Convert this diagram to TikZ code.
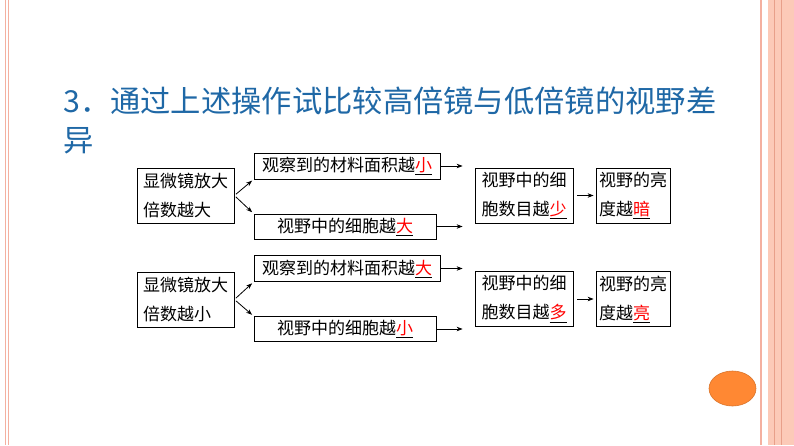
\documentclass[tikz,border=0pt]{standalone}
\usepackage{fontspec}
\setmainfont{Noto Sans CJK SC}
\usetikzlibrary{arrows.meta}
\definecolor{titleblue}{RGB}{31,104,166}
\definecolor{edgepink}{RGB}{244,176,160}
\definecolor{bandsalmon}{RGB}{252,202,184}
\definecolor{bandline}{RGB}{232,160,138}
\definecolor{dotorange}{RGB}{255,136,51}
\newcommand{\ans}[1]{\underline{\textcolor{red}{#1}}}

\begin{document}
\begin{tikzpicture}[x=1pt,y=-1pt,>={Stealth[length=6pt,width=4.5pt]},
  box/.style={draw,line width=0.8pt,inner sep=2pt,align=left,
    font=\fontsize{17}{29}\selectfont},
  arr/.style={->,line width=0.8pt}]
  \useasboundingbox (0,0) rectangle (794,445);

  \draw[edgepink,line width=1pt] (5,0) -- (5,445) (8.5,0) -- (8.5,445);
  \draw[edgepink,line width=1.6pt] (761,0) -- (761,445);
  \fill[bandsalmon] (767.5,0) rectangle (794,445);
  \draw[bandline,line width=0.6pt] (774.5,0) -- (774.5,445) (781,0) -- (781,445);
  \fill[dotorange,draw=dotorange!85!black,line width=0.6pt] (732.5,388.5) ellipse (23.5pt and 17.5pt);

  \node[anchor=north west,inner sep=0pt,align=left,text=titleblue,
    font=\fontsize{30.3}{39}\selectfont] (title) at (63,87)
    {3．通过上述操作试比较高倍镜与低倍镜的视野差\\异};

  \node[box,minimum width=97pt,minimum height=55pt] (A1) at (185.5,195.5) {显微镜放大\\倍数越大};
  \node[box,minimum width=186pt,minimum height=26pt] (B1) at (347,166) {观察到的材料面积越\ans{小}};
  \node[box,minimum width=182pt,minimum height=25pt] (C1) at (345,226.5) {视野中的细胞越\ans{大}};
  \node[box,minimum width=98pt,minimum height=55pt] (D1) at (524,195.5) {视野中的细\\胞数目越\ans{少}};
  \node[box,minimum width=74pt,minimum height=55pt] (E1) at (633,195.5) {视野的亮\\度越\ans{暗}};

  \node[box,minimum width=97pt,minimum height=55pt] (A2) at (185.5,299.5) {显微镜放大\\倍数越小};
  \node[box,minimum width=186pt,minimum height=26pt] (B2) at (347,268.5) {观察到的材料面积越\ans{大}};
  \node[box,minimum width=182pt,minimum height=25pt] (C2) at (345,329) {视野中的细胞越\ans{小}};
  \node[box,minimum width=98pt,minimum height=55pt] (D2) at (524,299) {视野中的细\\胞数目越\ans{多}};
  \node[box,minimum width=74pt,minimum height=55pt] (E2) at (633,299) {视野的亮\\度越\ans{亮}};

  \draw[arr,shorten <=2pt,shorten >=2pt] (A1.east) -- (B1.south west);
  \draw[arr,shorten <=2pt,shorten >=2pt] (A1.east) -- (C1.north west);
  \draw[arr,shorten <=1pt,shorten >=12pt] (B1.east) -- (B1.east -| D1.west);
  \draw[arr,shorten <=1pt,shorten >=12pt] (C1.east) -- (C1.east -| D1.west);
  \draw[arr,shorten <=4pt,shorten >=2pt] (D1.east) -- (E1.west);

  \draw[arr,shorten <=2pt,shorten >=2pt] (A2.east) -- (B2.south west);
  \draw[arr,shorten <=2pt,shorten >=2pt] (A2.east) -- (C2.north west);
  \draw[arr,shorten <=1pt,shorten >=12pt] (B2.east) -- (B2.east -| D2.west);
  \draw[arr,shorten <=1pt,shorten >=12pt] (C2.east) -- (C2.east -| D2.west);
  \draw[arr,shorten <=4pt,shorten >=2pt] (D2.east) -- (E2.west);
\end{tikzpicture}
\end{document}
